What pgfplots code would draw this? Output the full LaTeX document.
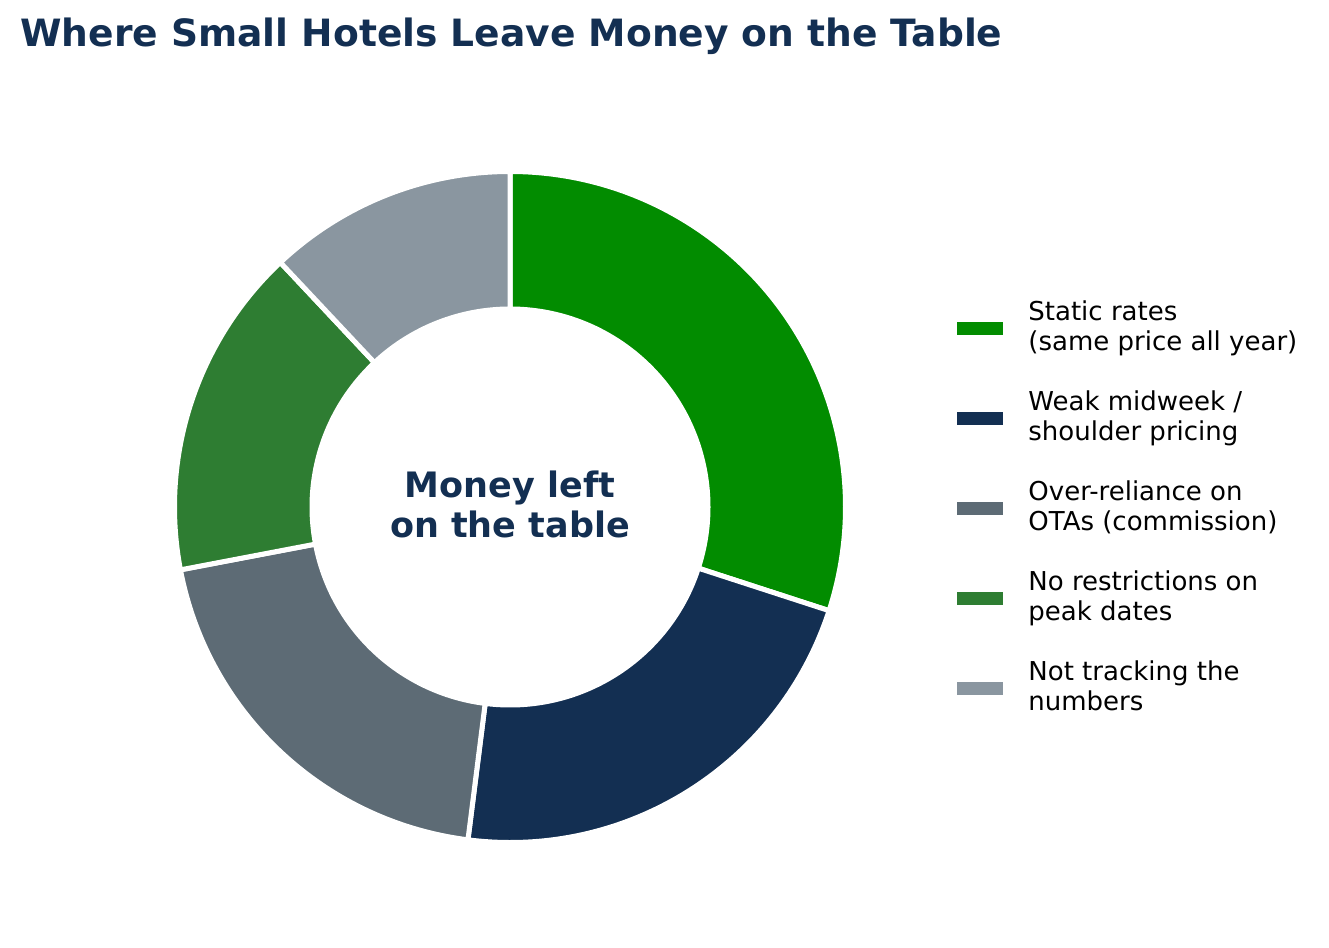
\documentclass[border=0pt]{standalone}
\usepackage{pgfplots}
\pgfplotsset{compat=1.18}
\usepackage{pgfplotstable}
\usepackage{fontspec}
\setmainfont{DejaVu Sans}

\definecolor{navy}{HTML}{132F52}
\definecolor{slice0}{HTML}{028C00}
\definecolor{slice1}{HTML}{132F52}
\definecolor{slice2}{HTML}{5D6B75}
\definecolor{slice3}{HTML}{2E7D32}
\definecolor{slice4}{HTML}{8A96A0}

% share of lost revenue, clockwise from 12 o'clock
\pgfplotstableread{
value
30
22
20
16
12
}\donutdata
\pgfplotstablecreatecol[create col/expr accum={\pgfmathaccuma+\thisrow{value}}{0}]{cum}\donutdata

\begin{document}
\begin{tikzpicture}
\begin{axis}[
  width=664.5pt, height=474pt, scale only axis,
  xmin=0, xmax=1329, ymin=0, ymax=948,
  hide axis, clip=false]
% keep the full canvas as bounding box
\path (axis cs:0,0) rectangle (axis cs:1329,948);
\pgfplotsinvokeforeach{0,...,4}{
  \pgfplotstablegetelem{#1}{cum}\of\donutdata
  \pgfmathsetmacro\angend{90-3.6*\pgfplotsretval}
  \pgfplotstablegetelem{#1}{value}\of\donutdata
  \pgfmathsetmacro\angstart{\angend+3.6*\pgfplotsretval}
  \edef\slice{\noexpand\fill[fill=slice#1, draw=white, line width=2.5pt]
    (axis cs:510,441) ++(\angstart:167.75pt)
    arc[start angle=\angstart, end angle=\angend, radius=167.75pt]
    -- ++(\angend:-68.75pt)
    arc[start angle=\angend, end angle=\angstart, radius=99pt] -- cycle;}
  \slice
}
% title
\node[anchor=base west, inner sep=0pt, text=navy, font=\fontsize{18.8}{22}\selectfont\bfseries]
  at (axis cs:20,901) {Where Small Hotels Leave Money on the Table};
% centre label
\node[anchor=base, inner sep=0pt, text=navy, font=\fontsize{17.5}{20}\selectfont\bfseries]
  at (axis cs:510,450) {Money left};
\node[anchor=base, inner sep=0pt, text=navy, font=\fontsize{17.5}{20}\selectfont\bfseries]
  at (axis cs:510,410) {on the table};
% legend
\pgfplotsinvokeforeach{0,...,4}{
  \fill[slice#1] (axis cs:957,{613-90*#1}) rectangle (axis cs:1003,{626-90*#1});
}
\begin{scope}[every node/.style={anchor=base west, inner sep=0pt, font=\fontsize{13}{15}\selectfont}]
\node at (axis cs:1028,627) {Static rates};
\node at (axis cs:1028,597) {(same price all year)};
\node at (axis cs:1028,537) {Weak midweek /};
\node at (axis cs:1028,507) {shoulder pricing};
\node at (axis cs:1028,447) {Over-reliance on};
\node at (axis cs:1028,417) {OTAs (commission)};
\node at (axis cs:1028,357) {No restrictions on};
\node at (axis cs:1028,327) {peak dates};
\node at (axis cs:1028,267) {Not tracking the};
\node at (axis cs:1028,237) {numbers};
\end{scope}
\end{axis}
\end{tikzpicture}
\end{document}
